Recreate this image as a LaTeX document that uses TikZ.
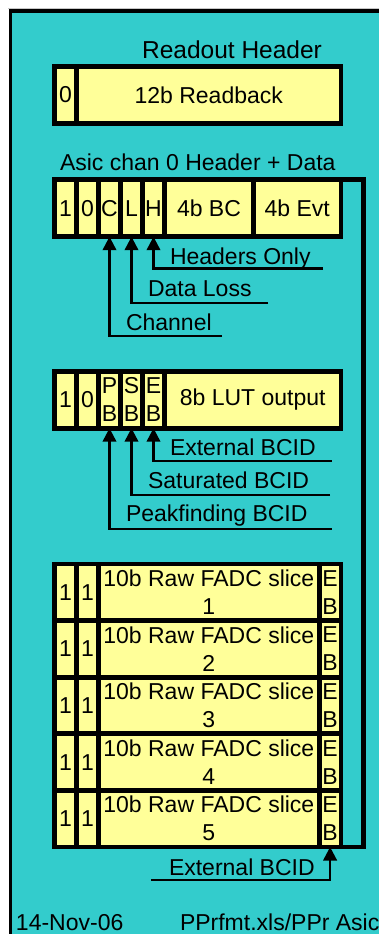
\documentclass[tikz,border=0pt]{standalone}
\usepackage{fontspec}
\setmainfont{Liberation Sans}
\usetikzlibrary{arrows.meta}
\definecolor{bgcyan}{RGB}{51,204,204}
\definecolor{cellyellow}{RGB}{255,255,153}
\newcommand\fmtcell[6]{%
  \pgfmathsetmacro\fcW{#4-#2}\pgfmathsetmacro\fcH{#5-#3}%
  \pgfmathsetmacro\fcX{(#2+#4)/2}\pgfmathsetmacro\fcY{(#3+#5)/2}%
  \node[cell, minimum width=\fcW pt, minimum height=\fcH pt] (#1) at (\fcX,\fcY) {#6};}
\begin{document}
\begin{tikzpicture}[x=1pt,y=-1pt,
  cell/.style={draw=black, fill=cellyellow, line width=4.8pt, inner sep=0pt, outer sep=0pt,
    font=\fontsize{23}{28}\selectfont, align=center},
  lbl/.style={font=\fontsize{23}{28}\selectfont, inner sep=0pt, outer sep=0pt},
  pointer/.style={draw=black, line width=2.4pt, -{Triangle[width=13.5pt,length=13.5pt]}},
  rail/.style={draw=black, line width=4.8pt, line join=miter},
]
\useasboundingbox (0,0) rectangle (379,934);
\clip (0,0) rectangle (379,934);
\fill[white] (0,0) rectangle (379,934);
\draw[line width=1pt, black!22] (8,8.3) -- (379,8.3);
\draw[line width=3.6pt, fill=bgcyan] (10.4,10.9) rectangle (420,980);

% Readout header
\node[lbl, font=\fontsize{24.5}{28}\selectfont, anchor=base] (rhdr) at (232,58.3) {Readout Header};
\fmtcell{r0}{54.5}{66.5}{76.5}{123.4}{0}
\fmtcell{rb}{76.5}{66.5}{341}{123.4}{12b Readback}

% Asic chan 0 header
\node[lbl, anchor=base west] (ahdr) at (60,170.7) {Asic chan 0 Header + Data};
\fmtcell{a1}{54.5}{179.5}{76.5}{236.7}{1}
\fmtcell{a0}{76.5}{179.5}{98.5}{236.7}{0}
\fmtcell{aC}{98.5}{179.5}{120.5}{236.7}{C}
\fmtcell{aL}{120.5}{179.5}{142.5}{236.7}{L}
\fmtcell{aH}{142.5}{179.5}{164.5}{236.7}{H}
\fmtcell{abc}{164.5}{179.5}{253.5}{236.7}{4b BC}
\fmtcell{aevt}{253.5}{179.5}{341}{236.7}{4b Evt}

\node[lbl, anchor=base west] (lho) at (170,264) {Headers Only};
\coordinate (ho) at (323,268.3);
\draw[pointer] (ho) -| (aH.south);
\node[lbl, anchor=base west] (ldl) at (148,296) {Data Loss};
\coordinate (dl) at (268,302.7);
\draw[pointer] (dl) -| (aL.south);
\node[lbl, anchor=base west] (lch) at (126,330) {Channel};
\coordinate (ch) at (222,336);
\draw[pointer] (ch) -| (aC.south);

% LUT word
\fmtcell{l1}{54.5}{371.7}{76.5}{428.2}{1}
\fmtcell{l0}{76.5}{371.7}{98.5}{428.2}{0}
\fmtcell{lP}{98.5}{371.7}{120.5}{428.2}{P\\B}
\fmtcell{lS}{120.5}{371.7}{142.5}{428.2}{S\\B}
\fmtcell{lE}{142.5}{371.7}{164.5}{428.2}{E\\B}
\fmtcell{llut}{164.5}{371.7}{341}{428.2}{8b LUT output}

\node[lbl, anchor=base west] (lext) at (170,455) {External BCID};
\coordinate (ext) at (331.7,460.7);
\draw[pointer] (ext) -| (lE.south);
\node[lbl, anchor=base west] (lsat) at (148,488.3) {Saturated BCID};
\coordinate (sat) at (330,495);
\draw[pointer] (sat) -| (lS.south);
\node[lbl, anchor=base west] (lpk) at (126,521.7) {Peakfinding BCID};
\coordinate (pk) at (331.7,529);
\draw[pointer] (pk) -| (lP.south);

% Raw FADC slices
\foreach \k in {1,...,5}{
  \pgfmathsetmacro\ytop{564+56.6*(\k-1)}
  \pgfmathsetmacro\ybot{\ytop+56.6}
  \fmtcell{fa\k}{54.5}{\ytop}{76.5}{\ybot}{1}
  \fmtcell{fb\k}{76.5}{\ytop}{98.5}{\ybot}{1}
  \fmtcell{fs\k}{98.5}{\ytop}{319.2}{\ybot}{10b Raw FADC slice\\\k}
  \fmtcell{fe\k}{319.2}{\ytop}{341}{\ybot}{E\\B}
}

% rail bracket
\coordinate (railtop) at (363.5,179.5);
\draw[rail] (aevt.north east) -- (railtop) |- (fe5.south east);

\node[lbl, anchor=base west] (lext2) at (169,875) {External BCID};
\coordinate (ext2) at (151,880);
\draw[pointer] (ext2) -| (fe5.south);

% footer
\node[lbl, anchor=base west] (date) at (16,930) {14-Nov-06};
\node[lbl, anchor=base west] (file) at (180,930) {PPrfmt.xls/PPr Asic};
\end{tikzpicture}
\end{document}
